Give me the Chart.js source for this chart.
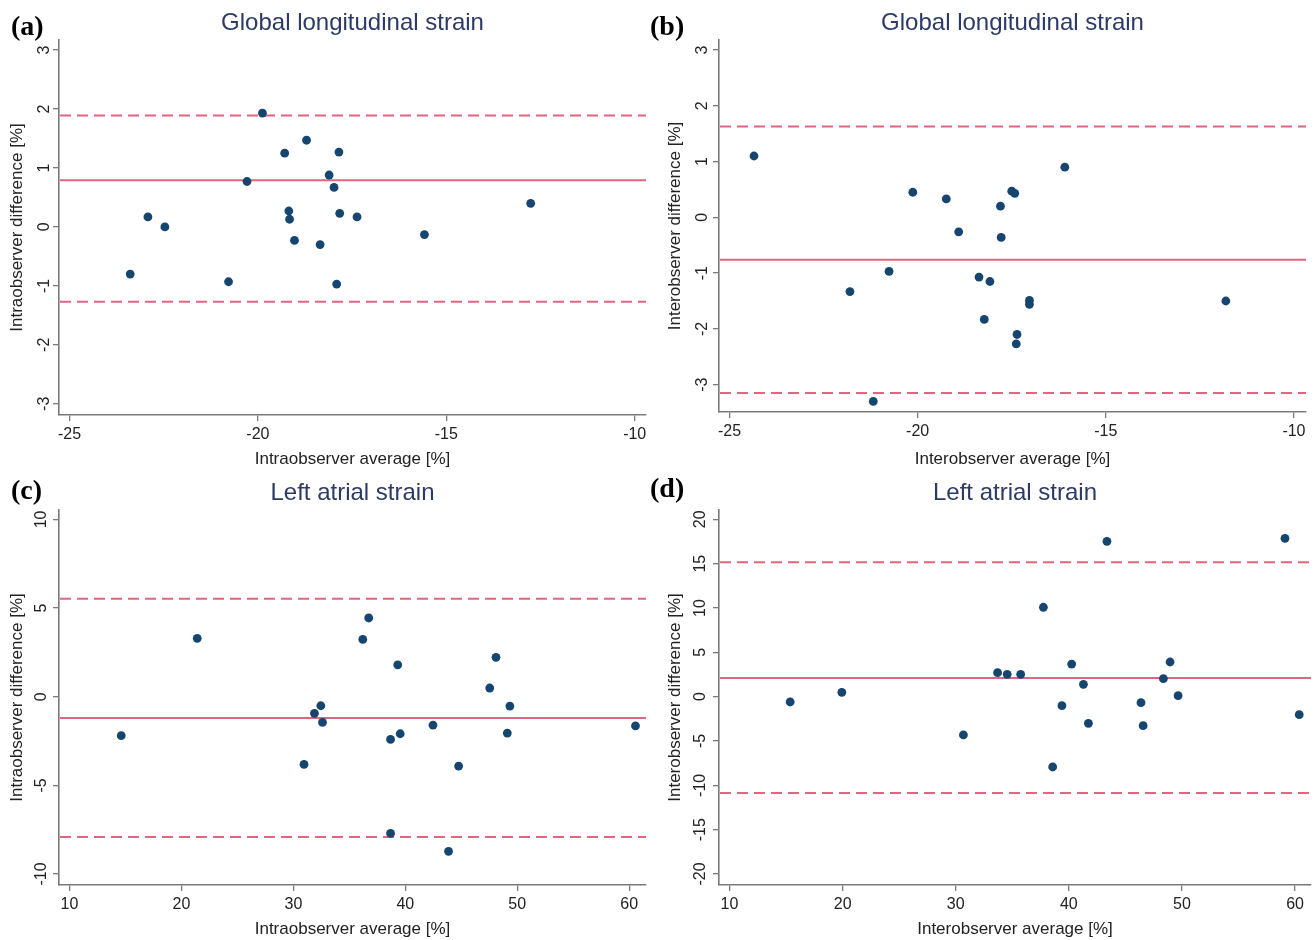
<!DOCTYPE html>
<html>
<head>
<meta charset="utf-8">
<script src="https://cdn.jsdelivr.net/npm/chart.js@4.4.1/dist/chart.umd.min.js"></script>
<style>
  html, body { margin: 0; padding: 0; background: #ffffff; }
  #wrap { position: relative; width: 1316px; height: 940px; overflow: hidden; background: #fff; }
  .panel { position: absolute; width: 658px; height: 470px; }
  .panel canvas { position: absolute; left: 0; top: 0; }
  .lbl { position: absolute; font-family: "Liberation Serif", "Times New Roman", serif; font-weight: bold; font-size: 28px; color: #000; line-height: 1; }
</style>
</head>
<body>
<div id="wrap">
  <div class="panel" style="left:0;top:0"><canvas id="ca" width="658" height="470"></canvas></div>
  <div class="panel" style="left:658px;top:0"><canvas id="cb" width="658" height="470"></canvas></div>
  <div class="panel" style="left:0;top:470px"><canvas id="cc" width="658" height="470"></canvas></div>
  <div class="panel" style="left:658px;top:470px"><canvas id="cd" width="658" height="470"></canvas></div>
  <div class="lbl" style="left:11px;top:12px">(a)</div>
  <div class="lbl" style="left:650px;top:12px">(b)</div>
  <div class="lbl" style="left:11px;top:476px">(c)</div>
  <div class="lbl" style="left:650px;top:474px">(d)</div>
</div>
<script>
// ---- Data ----
// (a) Global longitudinal strain, intraobserver
const aAvg  = [-19.88, -18.71, -19.29, -17.85, -18.11, -20.29, -17.98, -12.76, -22.92, -22.47,
               -19.18, -19.16, -17.83, -17.37, -15.58, -19.03, -18.35, -23.39, -20.78, -17.91];
const aDiff = [1.93, 1.47, 1.25, 1.27, 0.88, 0.77, 0.67, 0.40, 0.17, 0.00,
               0.27, 0.13, 0.23, 0.17, -0.13, -0.23, -0.30, -0.80, -0.93, -0.97];
const aLines = [0.79, 1.89, -1.27];   // mean, upper LoA, lower LoA

// (b) Global longitudinal strain, interobserver
const bAvg  = [-24.35, -16.09, -20.13, -19.24, -17.50, -17.42, -17.80, -18.91, -17.78, -20.76,
               -18.37, -18.08, -21.80, -17.03, -17.03, -11.81, -18.23, -17.36, -17.38, -21.18];
const bDiff = [1.10, 0.90, 0.45, 0.33, 0.47, 0.43, 0.20, -0.26, -0.36, -0.97,
               -1.07, -1.15, -1.33, -1.49, -1.56, -1.50, -1.83, -2.10, -2.27, -3.30];
const bLines = [-0.76, 1.63, -3.15];

// (c) Left atrial strain, intraobserver
const cAvg  = [36.73, 21.41, 36.20, 39.32, 48.10, 47.54, 32.45, 49.34, 31.88, 32.60,
               42.47, 60.56, 14.62, 39.54, 49.11, 38.68, 30.95, 44.76, 38.68, 43.86];
const cDiff = [4.44, 3.29, 3.23, 1.80, 2.22, 0.49, -0.51, -0.53, -0.94, -1.45,
               -1.60, -1.64, -2.20, -2.09, -2.05, -2.41, -3.82, -3.91, -7.71, -8.72];
const cLines = [-1.20, 5.53, -7.91];

// (d) Left atrial strain, interobserver
const dAvg  = [59.11, 43.37, 37.75, 48.95, 40.25, 33.70, 34.55, 35.74, 48.36, 41.29,
               19.93, 49.66, 15.36, 46.38, 39.39, 60.37, 41.73, 46.57, 30.68, 38.57];
const dDiff = [17.86, 17.52, 10.08, 3.91, 3.68, 2.71, 2.52, 2.52, 2.03, 1.39,
               0.49, 0.11, -0.60, -0.68, -1.02, -2.03, -3.01, -3.27, -4.32, -7.93];
const dLines = [2.11, 15.15, -10.86];

// Tick labels
const glsTicksX = [-25, -20, -15, -10];
const glsTicksY = [-3, -2, -1, 0, 1, 2, 3];
const lasTicksX = [10, 20, 30, 40, 50, 60];
const lasTicksYc = [-10, -5, 0, 5, 10];
const lasTicksYd = [-20, -15, -10, -5, 0, 5, 10, 15, 20];

// Titles
const titleGLS = 'Global longitudinal strain';
const titleLAS = 'Left atrial strain';

// ---- Styles ----
const FONT = '"Liberation Sans", Arial, Helvetica, sans-serif';
const POINT_COLOR = '#16456f';
const LINE_COLOR = '#e2647f';
const AXIS_COLOR = '#7a7a7a';
const TEXT_COLOR = '#222222';
const TITLE_COLOR = '#2c3a66';

const limitLines = {
  id: 'limitLines',
  beforeDatasetsDraw(chart, args, opts) {
    const {ctx, chartArea, scales} = chart;
    const vals = opts.values || [];
    ctx.save();
    ctx.strokeStyle = LINE_COLOR;
    ctx.lineWidth = 2;
    vals.forEach((v, i) => {
      const y = scales.y.getPixelForValue(v);
      ctx.setLineDash(i === 0 ? [] : [11, 6]);
      ctx.beginPath();
      ctx.moveTo(chartArea.left + 1, y);
      ctx.lineTo(chartArea.right, y);
      ctx.stroke();
    });
    ctx.restore();
  }
};

function makeChart(id, cfg) {
  const pts = cfg.avg.map((x, i) => ({x: x, y: cfg.diff[i]}));
  return new Chart(document.getElementById(id), {
    type: 'scatter',
    data: { datasets: [{
      data: pts,
      backgroundColor: POINT_COLOR,
      borderColor: POINT_COLOR,
      pointRadius: 4.4,
      pointHoverRadius: 4.4,
      borderWidth: 0
    }]},
    options: {
      responsive: false,
      animation: false,
      layout: { padding: { left: 0, right: cfg.padRight, top: 0, bottom: 0 } },
      plugins: {
        legend: { display: false },
        tooltip: { enabled: false },
        title: {
          display: true,
          text: cfg.title,
          fullSize: false,
          color: TITLE_COLOR,
          font: { family: FONT, size: 24, weight: 'normal', lineHeight: 1.2 },
          padding: { top: 9, bottom: 2.2 }
        },
        limitLines: { values: cfg.lines }
      },
      scales: {
        x: {
          type: 'linear',
          min: cfg.xMin, max: cfg.xMax,
          afterBuildTicks: s => { s.ticks = cfg.ticksX.map(v => ({value: v})); },
          afterFit: s => { s.height = cfg.xHeight; },
          grid: { drawOnChartArea: false, drawTicks: true, tickLength: 6, color: AXIS_COLOR, lineWidth: 1.3 },
          border: { display: true, color: AXIS_COLOR, width: 1.6 },
          ticks: { color: TEXT_COLOR, font: { family: FONT, size: 16 }, padding: 4, maxRotation: 0, autoSkip: false },
          title: { display: true, text: cfg.xTitle, color: TEXT_COLOR, font: { family: FONT, size: 17, lineHeight: 1.2 }, padding: { top: 0, bottom: 0 } }
        },
        y: {
          type: 'linear',
          min: cfg.yMin, max: cfg.yMax,
          afterBuildTicks: s => { s.ticks = cfg.ticksY.map(v => ({value: v})); },
          afterFit: s => { s.width = cfg.yWidth; },
          grid: { drawOnChartArea: false, drawTicks: true, tickLength: 6, color: AXIS_COLOR, lineWidth: 1.3 },
          border: { display: true, color: AXIS_COLOR, width: 1.6 },
          ticks: { color: TEXT_COLOR, font: { family: FONT, size: 16 }, padding: cfg.yTickPad, minRotation: 90, maxRotation: 90, crossAlign: 'center', autoSkip: false },
          title: { display: true, text: cfg.yTitle, color: TEXT_COLOR, font: { family: FONT, size: 17, lineHeight: 1.2 }, padding: { top: 7, bottom: 0 } }
        }
      }
    },
    plugins: [limitLines]
  });
}

makeChart('ca', {
  avg: aAvg, diff: aDiff, lines: aLines, title: titleGLS,
  xMin: -25.28, xMax: -9.70, yMin: -3.19, yMax: 3.17,
  ticksX: glsTicksX, ticksY: glsTicksY,
  xTitle: 'Intraobserver average [%]', yTitle: 'Intraobserver difference [%]',
  yWidth: 59, xHeight: 55, padRight: 12, yTickPad: 1
});
makeChart('cb', {
  avg: bAvg, diff: bDiff, lines: bLines, title: titleGLS,
  xMin: -25.28, xMax: -9.68, yMin: -3.49, yMax: 3.18,
  ticksX: glsTicksX, ticksY: glsTicksY,
  xTitle: 'Interobserver average [%]', yTitle: 'Interobserver difference [%]',
  yWidth: 61, xHeight: 58, padRight: 10, yTickPad: 3
});
makeChart('cc', {
  avg: cAvg, diff: cDiff, lines: cLines, title: titleLAS,
  xMin: 9.06, xMax: 61.5, yMin: -10.62, yMax: 10.53,
  ticksX: lasTicksX, ticksY: lasTicksYc,
  xTitle: 'Intraobserver average [%]', yTitle: 'Intraobserver difference [%]',
  yWidth: 59, xHeight: 55, padRight: 12, yTickPad: 0
});
makeChart('cd', {
  avg: dAvg, diff: dDiff, lines: dLines, title: titleLAS,
  xMin: 9.07, xMax: 61.41, yMin: -21.24, yMax: 21.05,
  ticksX: lasTicksX, ticksY: lasTicksYd,
  xTitle: 'Interobserver average [%]', yTitle: 'Interobserver difference [%]',
  yWidth: 61, xHeight: 55, padRight: 5, yTickPad: 1
});
</script>
</body>
</html>
